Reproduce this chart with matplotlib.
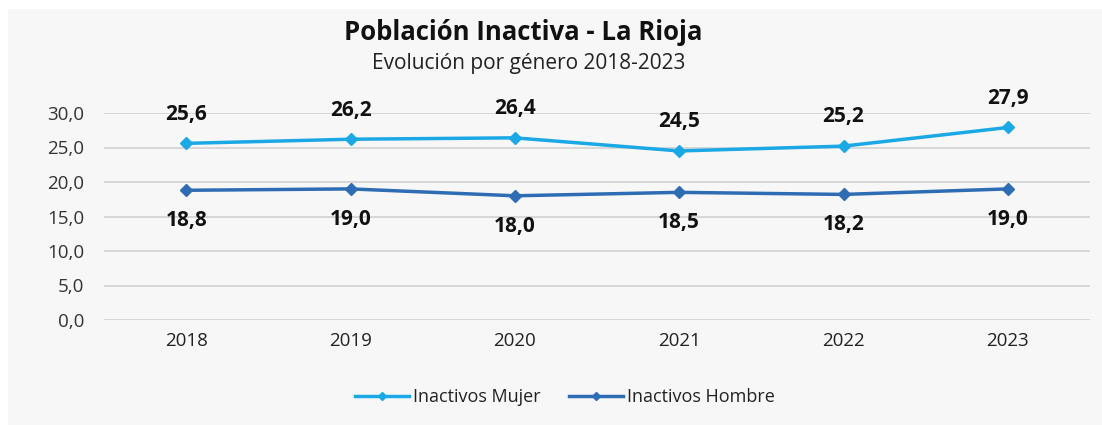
import matplotlib.pyplot as plt
from matplotlib.patches import Rectangle

years = ["2018", "2019", "2020", "2021", "2022", "2023"]
mujer = [25.6, 26.2, 26.4, 24.5, 25.2, 27.9]
hombre = [18.8, 19.0, 18.0, 18.5, 18.2, 19.0]
yticks = [0, 5, 10, 15, 20, 25, 30]

c_mujer = "#1BA9E6"
c_hombre = "#2E6DB4"

plt.rcParams['font.family'] = ['Open Sans', 'DejaVu Sans']

fig = plt.figure(figsize=(11.02, 4.25), dpi=100)
fig.patch.set_facecolor("white")
fig.patches.append(Rectangle((8/1102, 0), 1 - 8/1102, 1 - 9/425, transform=fig.transFigure,
                             facecolor="#F7F7F7", edgecolor="none", zorder=-5))

ax = fig.add_axes([104/1102, 1 - 320/425, (1090 - 104)/1102, (320 - 113)/425])
ax.set_facecolor("none")
x = list(range(len(years)))
ax.plot(x, mujer, color=c_mujer, lw=2.5, marker="D", ms=6, label="Inactivos Mujer", zorder=3)
ax.plot(x, hombre, color=c_hombre, lw=2.5, marker="D", ms=6, label="Inactivos Hombre", zorder=3)

ax.set_xlim(-0.5, len(years) - 0.5)
ax.set_ylim(0, 30)
ax.set_yticks(yticks)
ax.set_yticklabels([f"{v:.1f}".replace(".", ",") for v in yticks], fontsize=13.5, color="#333333")
ax.set_xticks(x)
ax.set_xticklabels(years, fontsize=13.5, color="#222222")
ax.tick_params(length=0)
ax.tick_params(axis="y", pad=14)
ax.tick_params(axis="x", pad=9)
ax.grid(axis="y", color="#D4D4D4", lw=1.3)
ax.set_axisbelow(True)
for s in ax.spines.values():
    s.set_visible(False)

for i, v in enumerate(mujer):
    ax.annotate(f"{v:.1f}".replace(".", ","), (i, v), xytext=(0, 21), textcoords="offset points",
                ha="center", va="center", fontsize=15, fontweight="bold", color="#111111")
for i, v in enumerate(hombre):
    ax.annotate(f"{v:.1f}".replace(".", ","), (i, v), xytext=(0, -22), textcoords="offset points",
                ha="center", va="center", fontsize=15, fontweight="bold", color="#111111")

fig.text(523/1102, 1 - 33/425, "Población Inactiva - La Rioja", ha="center", va="center",
         fontsize=18.5, fontweight="bold", color="#111111")
fig.text(529/1102, 1 - 63/425, "Evolución por género 2018-2023", ha="center", va="center",
         fontsize=15, color="#222222")

leg = fig.legend(loc="center", bbox_to_anchor=(565/1102, 1 - 397/425), ncol=2, frameon=False,
                 fontsize=13, handlelength=3, columnspacing=1.6, handletextpad=0.2,
                 markerscale=0.7)
for t in leg.get_texts():
    t.set_color("#222222")

fig.savefig("out.png", dpi=100, facecolor=fig.get_facecolor())
